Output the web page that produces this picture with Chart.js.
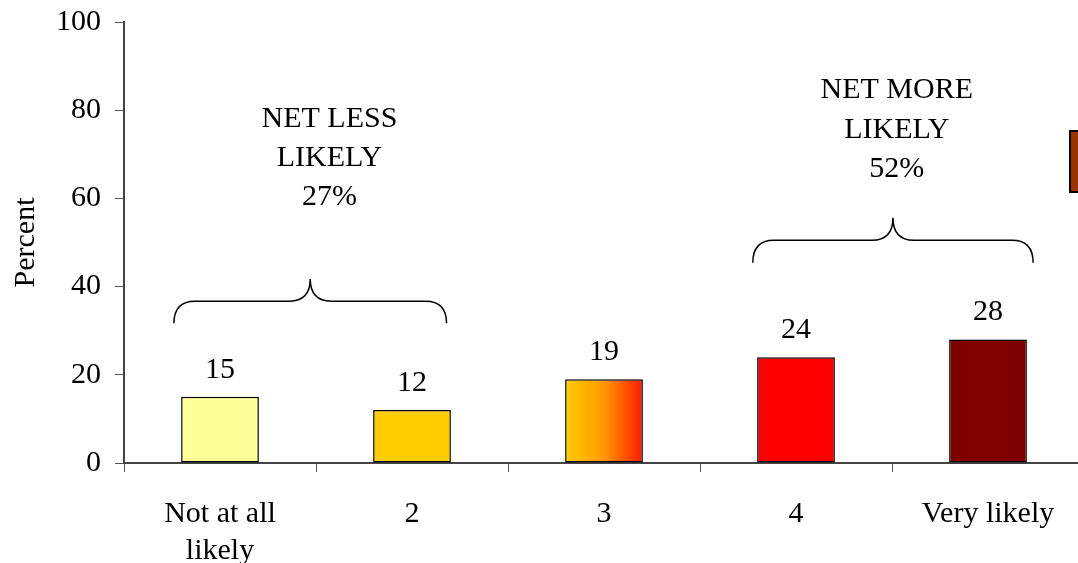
<!DOCTYPE html>
<html>
<head>
<meta charset="utf-8">
<script src="https://cdn.jsdelivr.net/npm/chart.js@4.4.1/dist/chart.umd.min.js"></script>
<style>
  html, body { margin: 0; padding: 0; background: #fff; overflow: hidden; }
  #wrap { position: relative; width: 1100px; height: 563px; }
</style>
</head>
<body>
<div id="wrap"><canvas id="myChart"></canvas></div>
<script>
var categories = [["Not at all", "likely"], "2", "3", "4", "Very likely"];
var percents = [15, 12, 19, 24, 28];
var yTicks = [0, 20, 40, 60, 80, 100];
var barColors = ["#FFFF99", "#FFCC00", "gradient", "#FF0000", "#800000"];
var lessGroup = [0, 1];
var moreGroup = [3, 4];

var FONT = "'Liberation Serif', 'Times New Roman', serif";
var BAR_PCT = 0.405;

function sumOf(idx) {
    return idx.reduce(function (s, i) { return s + percents[i]; }, 0);
}

function barFill(ctx) {
    var c = barColors[ctx.dataIndex];
    if (c !== "gradient") return c;
    var chart = ctx.chart;
    if (!chart.chartArea) return "#FF8800";
    var xs = chart.scales.x;
    var cx = xs.getPixelForValue(ctx.dataIndex);
    var half = xs.width / categories.length * BAR_PCT / 2;
    var g = chart.ctx.createLinearGradient(cx - half, 0, cx + half, 0);
    g.addColorStop(0, "#FFCC00");
    g.addColorStop(0.5, "#FF9900");
    g.addColorStop(1, "#FF1A00");
    return g;
}

// braces + net notes
var notes = [
    { idx: lessGroup, lines: ["NET LESS", "LIKELY"], from: -0.24, to: 0.18, base: 31.7, tip: 41.7, textX: 0.1, textY: 78.0 },
    { idx: moreGroup, lines: ["NET MORE", "LIKELY"], from: -0.225, to: 0.235, base: 45.4, tip: 55.6, textX: 0.02, textY: 84.5 }
];

function drawBrace(c, x0, x1, yEnd, yTip) {
    var xm = (x0 + x1) / 2;
    var yMid = (yEnd + yTip) / 2;
    var r = 21;
    c.beginPath();
    c.moveTo(x0, yEnd);
    c.quadraticCurveTo(x0, yMid, x0 + r, yMid);
    c.lineTo(xm - r, yMid);
    c.quadraticCurveTo(xm, yMid, xm, yTip);
    c.quadraticCurveTo(xm, yMid, xm + r, yMid);
    c.lineTo(x1 - r, yMid);
    c.quadraticCurveTo(x1, yMid, x1, yEnd);
    c.stroke();
}

var notePlugin = {
    id: "notes",
    afterDatasetsDraw: function (chart) {
        var c = chart.ctx;
        var xs = chart.scales.x, ys = chart.scales.y;
        var step = xs.width / categories.length;
        c.save();
        c.fillStyle = "#000";
        c.font = "30px " + FONT;
        c.textAlign = "center";
        c.textBaseline = "middle";
        // value labels
        chart.getDatasetMeta(0).data.forEach(function (bar, i) {
            c.fillText(String(percents[i]), bar.x, bar.y - 27);
        });
        // braces and notes
        c.strokeStyle = "#000";
        c.lineWidth = 1.5;
        notes.forEach(function (n) {
            var a = xs.getPixelForValue(n.idx[0]) + n.from * step;
            var b = xs.getPixelForValue(n.idx[n.idx.length - 1]) + n.to * step;
            drawBrace(c, a, b, ys.getPixelForValue(n.base), ys.getPixelForValue(n.tip));
            var tx = (a + b) / 2 + n.textX * step;
            var ty = ys.getPixelForValue(n.textY);
            var lines = n.lines.concat([sumOf(n.idx) + "%"]);
            lines.forEach(function (t, k) {
                c.fillText(t, tx, ty + k * 39.3);
            });
        });
        // cut-off legend swatch
        c.fillStyle = "#993300";
        c.fillRect(chart.chartArea.right - 14, 131, 40, 61);
        c.lineWidth = 2;
        c.strokeRect(chart.chartArea.right - 14, 131, 40, 61);
        c.restore();
    }
};

var ctx = document.getElementById("myChart");
var myChart = new Chart(ctx, {
    type: "bar",
    data: {
        labels: categories,
        datasets: [{
            data: percents,
            backgroundColor: barFill,
            borderColor: "#000",
            borderWidth: 1.5,
            borderSkipped: false,
            categoryPercentage: 1,
            barPercentage: BAR_PCT
        }]
    },
    options: {
        responsive: true,
        maintainAspectRatio: false,
        animation: false,
        layout: { padding: { top: 22, right: 16, left: 0, bottom: 0 } },
        plugins: {
            legend: { display: false },
            tooltip: { enabled: false }
        },
        scales: {
            x: {
                afterFit: function (s) { s.height = 100; },
                grid: { display: true, drawOnChartArea: false, drawTicks: true, tickLength: 9, color: "#555", lineWidth: 1, offset: true },
                border: { display: true, color: "#444", width: 2 },
                ticks: {
                    color: "#000",
                    font: { family: FONT, size: 30, lineHeight: 1.25 },
                    padding: 23,
                    maxRotation: 0,
                    autoSkip: false
                }
            },
            y: {
                min: 0,
                max: 100,
                afterFit: function (s) { s.width = 124; s.paddingTop = 0; },
                afterBuildTicks: function (s) {
                    s.ticks = yTicks.map(function (v) { return { value: v }; });
                },
                grid: { display: true, drawOnChartArea: false, drawTicks: true, tickLength: 9, color: "#555", lineWidth: 1 },
                border: { display: true, color: "#444", width: 2 },
                ticks: {
                    color: "#000",
                    font: { family: FONT, size: 30, lineHeight: 0.6 },
                    padding: 14
                },
                title: {
                    display: true,
                    text: "Percent",
                    color: "#000",
                    font: { family: FONT, size: 30 },
                    padding: { top: 8, bottom: 0 }
                }
            }
        }
    },
    plugins: [notePlugin]
});
</script>
</body>
</html>
